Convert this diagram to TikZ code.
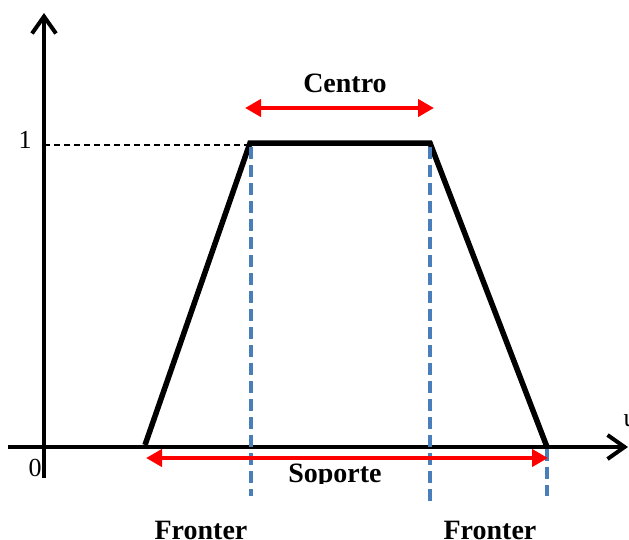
\documentclass[tikz,border=0pt]{standalone}
\usepackage{fontspec}
\setmainfont{Liberation Serif}
\usetikzlibrary{arrows.meta}
\definecolor{axblue}{RGB}{74,126,187}
\begin{document}
\begin{tikzpicture}[x=1pt,y=-1pt,
  axis/.style={line width=4pt},
  memb/.style={line width=5.5pt, line join=miter},
  guide/.style={axblue, line width=3.2pt, dash pattern=on 12pt off 6pt},
  redarr/.style={red, line width=4pt, {Triangle[length=16pt,width=17pt]}-{Triangle[length=16pt,width=17pt]}},
  lbl/.style={font=\fontsize{28}{30}\selectfont\bfseries, inner sep=0pt},
  num/.style={font=\fontsize{26}{28}\selectfont, inner sep=0pt}]
\useasboundingbox (0,0) rectangle (629,539);
% axes
\coordinate (yb) at (44,478);
\coordinate (yt) at (44,13);
\coordinate (xl) at (8,447);
\coordinate (xr) at (628,447);
\draw[axis, -{Straight Barb[length=17pt,width=24pt,line width=4pt]}] (yb) -- (yt);
\draw[axis, -{Straight Barb[length=17pt,width=24pt,line width=4pt]}] (xl) -- (xr);
% trapezoid
\coordinate (a) at (145,445);
\coordinate (b) at (250,143);
\coordinate (c) at (430,143);
\coordinate (d) at (547,447);
\draw[memb] (a) -- (b) -- (c) -- (d);
% dashed level 1
\coordinate (one) at (44,145);
\coordinate (oneb) at (248,145);
\draw[line width=1.3pt, dash pattern=on 6pt off 4pt] (one) -- (oneb);
% blue guides
\coordinate (g1t) at (251,147); \coordinate (g1b) at (251,496);
\coordinate (g2t) at (430,147); \coordinate (g2b) at (430,506);
\coordinate (g3t) at (547,449); \coordinate (g3b) at (547,496);
\draw[guide] (g1t) -- (g1b);
\draw[guide] (g2t) -- (g2b);
\draw[guide] (g3t) -- (g3b);
% red arrows
\coordinate (c1) at (245,108); \coordinate (c2) at (434,108);
\draw[redarr] (c1) -- (c2);
\coordinate (s1) at (146,458); \coordinate (s2) at (548,458);
\draw[redarr] (s1) -- (s2);
% labels
\node[lbl] (centro) at (345,83) {Centro};
\begin{scope}
\clip (270,455) rectangle (420,483);
\node[lbl] (soporte) at (335,476) {Soporte};
\end{scope}
\node[lbl] (f1) at (201,530) {Fronter};
\node[lbl] (f2) at (490,530) {Fronter};
\node[num] (n1) at (25,140) {1};
\node[num] (n0) at (35,468) {0};
\node[font=\fontsize{26}{28}\selectfont, inner sep=0pt] (u) at (630,421) {u};
\end{tikzpicture}
\end{document}
